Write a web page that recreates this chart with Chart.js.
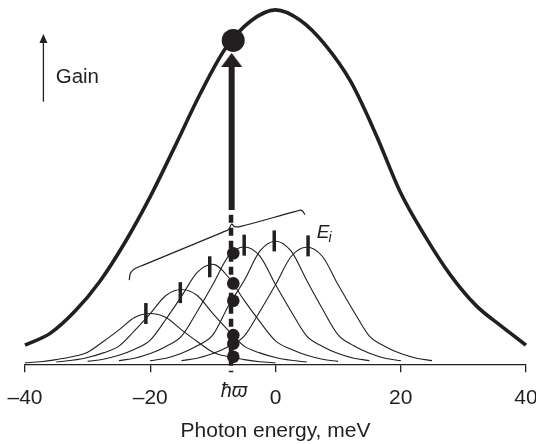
<!DOCTYPE html>
<html><head><meta charset="utf-8">
<script src="https://cdn.jsdelivr.net/npm/chart.js@4.4.1/dist/chart.umd.min.js"></script>
<style>html,body{margin:0;padding:0;background:#fff;}#wrap{width:536px;height:444px;}</style>
</head><body><div id="wrap"><canvas id="c" width="536" height="444"></canvas></div>
<script>
// ---- data ----
const tickValues = [-40, -20, 0, 20, 40];
const tickLabels = ['–40', '–20', '0', '20', '40'];
const xTitle = 'Photon energy, meV';
const gainLabel = 'Gain';
const photonLabel = 'ħϖ';
const levelLabel = 'E';
const levelSub = 'i';
const photonEnergy = -7.1;      // ħϖ position, meV

// total (envelope) gain curve
const gainX = [-40, -36, -32, -28, -24, -20, -16, -12, -8, -4, 0, 4, 8, 12, 16, 20, 24, 28, 32, 36, 40];
const gainY = [5.4, 8.7, 15.0, 23.5, 34.5, 47.3, 61.7, 76.4, 89.1, 96.8, 100, 97.0, 90.0, 79.8, 65.0, 48.3, 35.8, 25.0, 16.6, 10.8, 5.4];

// individual mode curves on a common energy grid
const modeX = [-40, -37.5, -35, -32.5, -30, -27.5, -25, -22.5, -20, -17.5, -15, -12.5, -10, -7.5, -5, -2.5, 0, 2.5, 5, 7.5, 10, 12.5, 15, 17.5, 20, 22.5, 25];
const mode1 = [0.4, 0.7, 1.3, 2.1, 3.4, 6.4, 9.7, 13.2, 14.3, 13.2, 9.7, 6.4, 3.4, 2.1, 1.3, 0.7, 0.4, null, null, null, null, null, null, null, null, null, null];
const mode2 = [null, null, 0.6, 1.1, 1.9, 3.2, 5.1, 9.5, 14.3, 19.4, 21.1, 19.4, 14.3, 9.5, 5.1, 3.2, 1.9, 1.1, 0.6, null, null, null, null, null, null, null, null];
const mode3 = [null, null, null, null, 0.8, 1.4, 2.5, 4.2, 6.8, 12.7, 19.2, 25.9, 28.2, 24.5, 18.0, 12.0, 6.6, 4.2, 2.5, 1.4, 0.8, null, null, null, null, null, null];
const mode4 = [null, null, null, null, null, null, 1.0, 1.7, 3.0, 5.0, 7.9, 14.9, 22.5, 30.5, 33.1, 30.5, 22.5, 14.9, 7.9, 5.0, 3.0, 1.7, 1.0, null, null, null, null];
const mode5 = [null, null, null, null, null, null, null, null, 1.0, 1.7, 3.1, 5.2, 8.3, 16.5, 23.6, 31.9, 34.7, 31.9, 23.6, 15.6, 8.3, 5.2, 3.1, 1.7, 1.0, null, null];
const mode6 = [null, null, null, null, null, null, null, null, null, null, 1.0, 1.7, 3.0, 5.0, 7.9, 14.9, 22.4, 30.4, 33.0, 30.4, 22.4, 14.9, 7.9, 5.0, 3.0, 1.7, 1.0];

// E_i markers (vertical bars)
const levelX = [-20.7, -15.2, -10.5, -5.0, -0.2, 5.2];
const levelY = [14.3, 20.2, 27.5, 33.6, 34.8, 33.4];

// contributions of each mode at ħϖ
const dotX = [-6.74, -6.74, -6.74, -6.74, -6.74, -6.74];
const dotY = [31.3, 22.8, 17.9, 8.2, 5.8, 2.1];

// total gain at ħϖ
const bigDotX = [-6.75];
const bigDotY = [91.4];

// dashed ħϖ line and solid arrow shaft
const dashX = [-7.1, -7.1];
const dashY = [42.2, -2.3];
const shaftX = [-7.0, -7.0];
const shaftY = [43.5, 84.5];
const headX = [-7.0];
const headY = [85.9];

// curly brace
const braceX = [-23.35, -23.16, -22.44, -21.12, -8.39, -7.51, -7.0, -6.55, -5.67, 3.39, 4.19, 4.71];
const braceY = [23.73, 25.71, 27.03, 27.97, 37.29, 37.99, 39.55, 38.84, 38.84, 43.22, 43.42, 42.23];

// annotation anchors (data coords)
const gainArrowX = -37.06, gainArrowY0 = 74.1, gainArrowY1 = 93.2;
const gainTextX = -35.1, gainTextY = 79.4;
const levelTextX = 6.6, levelTextY = 35.5;

// ---- drawing ----
const INK = '#231f20';
const FONT = '"Liberation Sans", Arial, "DejaVu Sans", sans-serif';
Chart.defaults.font.family = FONT;
Chart.defaults.color = INK;

const zip = (xs, ys) => xs.map((x, i) => ({x, y: ys[i]}));

const head = document.createElement('canvas');
head.width = 21; head.height = 14;
{
  const h = head.getContext('2d');
  h.fillStyle = INK;
  h.beginPath(); h.moveTo(0, 14); h.lineTo(21, 14); h.lineTo(10.5, 0); h.closePath(); h.fill();
}

const modeStyle = (ys) => ({
  type: 'line', data: zip(modeX, ys), borderColor: INK, borderWidth: 1.1,
  pointRadius: 0, cubicInterpolationMode: 'monotone', clip: false, order: 7, spanGaps: false
});

const annot = {
  id: 'annot',
  afterDraw(chart) {
    const ctx = chart.ctx, xs = chart.scales.x, ys = chart.scales.y;
    ctx.save();
    ctx.fillStyle = INK; ctx.strokeStyle = INK;
    // Gain arrow
    const ax = xs.getPixelForValue(gainArrowX);
    const ay0 = ys.getPixelForValue(gainArrowY0), ay1 = ys.getPixelForValue(gainArrowY1);
    ctx.lineWidth = 1.3;
    ctx.beginPath(); ctx.moveTo(ax, ay0); ctx.lineTo(ax, ay1 + 7); ctx.stroke();
    ctx.beginPath(); ctx.moveTo(ax, ay1); ctx.lineTo(ax - 4, ay1 + 9); ctx.lineTo(ax + 4, ay1 + 9); ctx.closePath(); ctx.fill();
    // Gain text
    ctx.font = '20.5px ' + FONT;
    ctx.textBaseline = 'alphabetic'; ctx.textAlign = 'left';
    ctx.fillText(gainLabel, xs.getPixelForValue(gainTextX), ys.getPixelForValue(gainTextY));
    // E_i
    const ex = xs.getPixelForValue(levelTextX), ey = ys.getPixelForValue(levelTextY);
    ctx.font = 'italic 19px ' + FONT;
    ctx.fillText(levelLabel, ex, ey);
    const ew = ctx.measureText(levelLabel).width;
    ctx.font = 'italic 14px ' + FONT;
    ctx.fillText(levelSub, ex + ew - 1, ey + 4);
    // ħϖ label
    ctx.font = 'italic 20px ' + FONT;
    ctx.textAlign = 'center';
    ctx.fillText(photonLabel, xs.getPixelForValue(photonEnergy) + 3, 397);
    ctx.restore();
  }
};

new Chart(document.getElementById('c'), {
  data: {
    datasets: [
      {type: 'scatter', data: zip(bigDotX, bigDotY), pointRadius: 11.5, pointBackgroundColor: INK, pointBorderWidth: 0, clip: false, order: 0},
      {type: 'scatter', data: zip(dotX, dotY), pointRadius: 6.3, pointBackgroundColor: INK, pointBorderWidth: 0, clip: false, order: 1},
      {type: 'scatter', data: zip(levelX, levelY), pointStyle: 'line', rotation: 90, pointRadius: 10.5, pointBorderColor: INK, pointBorderWidth: 3.5, clip: false, order: 2},
      {type: 'scatter', data: zip(headX, headY), pointStyle: head, pointRadius: 10, clip: false, order: 3},
      {type: 'line', data: zip(shaftX, shaftY), borderColor: INK, borderWidth: 6, pointRadius: 0, borderCapStyle: 'butt', clip: false, order: 4},
      {type: 'line', data: zip(dashX, dashY), borderColor: INK, borderWidth: 4.5, borderDash: [8, 5], pointRadius: 0, borderCapStyle: 'butt', clip: false, order: 5},
      {type: 'line', data: zip(braceX, braceY), borderColor: INK, borderWidth: 1.2, pointRadius: 0, tension: 0.35, clip: false, order: 6},
      modeStyle(mode1), modeStyle(mode2), modeStyle(mode3), modeStyle(mode4), modeStyle(mode5), modeStyle(mode6),
      {type: 'line', data: zip(gainX, gainY), borderColor: INK, borderWidth: 3.6, pointRadius: 0, cubicInterpolationMode: 'monotone', clip: false, order: 8}
    ]
  },
  options: {
    responsive: false, animation: false, events: [],
    layout: {autoPadding: false, padding: {left: 25, right: 10, top: 0, bottom: 0}},
    plugins: {legend: {display: false}, tooltip: {enabled: false}},
    scales: {
      x: {
        type: 'linear', min: -40, max: 40,
        afterBuildTicks: s => { s.ticks = tickValues.map(v => ({value: v})); },
        afterFit: s => { s.paddingLeft = 0; s.paddingRight = 0; },
        ticks: {callback: v => tickLabels[tickValues.indexOf(v)], font: {size: 21}, color: INK, padding: 13, maxRotation: 0, autoSkip: false},
        grid: {drawOnChartArea: false, drawTicks: true, tickLength: 8, color: INK, lineWidth: 1.3},
        border: {display: true, color: INK, width: 1.3},
        title: {display: true, text: xTitle, font: {size: 21}, color: INK, padding: {top: -4.6, bottom: 0}}
      },
      y: {display: false, min: 0, max: 102.8}
    }
  },
  plugins: [annot]
});
</script></body></html>
